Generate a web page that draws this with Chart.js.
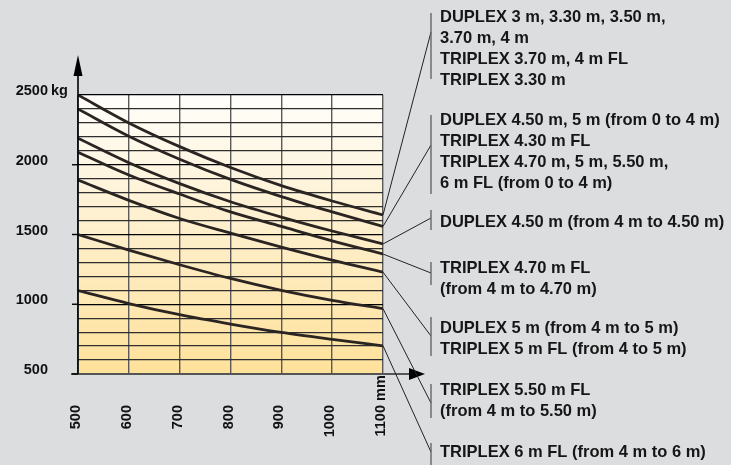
<!DOCTYPE html>
<html>
<head>
<meta charset="utf-8">
<script src="https://cdn.jsdelivr.net/npm/chart.js@4.4.1/dist/chart.umd.min.js"></script>
<style>
  html, body { margin: 0; padding: 0; background: #dcdddf; }
  #wrap { width: 731px; height: 465px; }
</style>
</head>
<body>
<div id="wrap"><canvas id="canvas_load" width="731" height="465"></canvas></div>
<script>
// load centre distance (mm) vs capacity (kg)
var distances = [500, 600, 700, 800, 900, 1000, 1100];
var curve1 = [2500, 2300, 2130, 1980, 1850, 1740, 1640];
var curve2 = [2400, 2205, 2040, 1895, 1772, 1662, 1558];
var curve3 = [2190, 2015, 1865, 1735, 1625, 1525, 1432];
var curve4 = [2090, 1927, 1790, 1662, 1558, 1455, 1360];
var curve5 = [1890, 1745, 1615, 1510, 1410, 1316, 1230];
var curve6 = [1500, 1388, 1283, 1185, 1100, 1028, 968];
var curve7 = [1098, 1005, 925, 858, 798, 748, 702];

var yTickValues = [500, 1000, 1500, 2000, 2500];
var yTickLabels = ['500', '1000', '1500', '2000', '2500'];
var xTickLabels = ['500', '600', '700', '800', '900', '1000', '1100'];

var labelGroups = [
    ['DUPLEX 3 m, 3.30 m, 3.50 m,', '3.70 m, 4 m', 'TRIPLEX 3.70 m, 4 m FL', 'TRIPLEX 3.30 m'],
    ['DUPLEX 4.50 m, 5 m (from 0 to 4 m)', 'TRIPLEX 4.30 m FL', 'TRIPLEX 4.70 m, 5 m, 5.50 m,', '6 m FL (from 0 to 4 m)'],
    ['DUPLEX 4.50 m (from 4 m to 4.50 m)'],
    ['TRIPLEX 4.70 m FL', '(from 4 m to 4.70 m)'],
    ['DUPLEX 5 m (from 4 m to 5 m)', 'TRIPLEX 5 m FL (from 4 to 5 m)'],
    ['TRIPLEX 5.50 m FL', '(from 4 m to 5.50 m)'],
    ['TRIPLEX 6 m FL (from 4 m to 6 m)']
];

var curves = [curve1, curve2, curve3, curve4, curve5, curve6, curve7];

// layout of the callout column (pixels)
var labelX = 440;
var barX = 431;
var groupTop = [17, 120, 222, 268, 328, 390, 452];
var lineGap = 21;
var leaderY = [32, 145, 218, 273, 336, 403, 452];
var barSpan = [[13, 79], [115, 194], [210, 230], [262, 285], [317, 356], [384, 418], [443, 465]];

var bgPlugin = {
    id: 'bg',
    beforeDraw: function(chart) {
        var c = chart.ctx, a = chart.chartArea;
        c.save();
        c.fillStyle = '#dcdddf';
        c.fillRect(0, 0, chart.width, chart.height);
        var g = c.createLinearGradient(0, a.top, 0, a.bottom);
        g.addColorStop(0, '#fffefb');
        g.addColorStop(0.45, '#fef0cf');
        g.addColorStop(1, '#fee19a');
        c.fillStyle = g;
        c.fillRect(a.left, a.top, a.right - a.left, a.bottom - a.top);
        c.restore();
    }
};

var axesPlugin = {
    id: 'axes',
    afterDatasetsDraw: function(chart) {
        var c = chart.ctx;
        var xs = chart.scales.x, ys = chart.scales.y;
        var x0 = xs.getPixelForValue(500), x1 = xs.getPixelForValue(1100);
        var yb = ys.getPixelForValue(500);
        c.save();
        // x axis with arrow
        c.strokeStyle = '#555';
        c.lineWidth = 2;
        c.beginPath();
        c.moveTo(x0 - 7, yb);
        c.lineTo(x1 + 27, yb);
        c.stroke();
        c.fillStyle = '#000';
        c.beginPath();
        c.moveTo(x1 + 42, yb);
        c.lineTo(x1 + 26, yb - 6);
        c.lineTo(x1 + 26, yb + 6);
        c.closePath();
        c.fill();
        // y axis with arrow
        c.strokeStyle = '#000';
        c.lineWidth = 1.6;
        c.beginPath();
        c.moveTo(x0, yb);
        c.lineTo(x0, 74);
        c.stroke();
        c.beginPath();
        c.moveTo(x0, 55);
        c.lineTo(x0 - 4.5, 76);
        c.lineTo(x0 + 4.5, 76);
        c.closePath();
        c.fill();
        // y ticks
        c.lineWidth = 1.4;
        yTickValues.forEach(function(v) {
            if (v === 2500) return;
            var y = ys.getPixelForValue(v);
            c.beginPath();
            c.moveTo(x0 - 6, y);
            c.lineTo(x0, y);
            c.stroke();
        });
        // y tick labels
        c.font = 'bold 14.5px "Liberation Sans", Arial, sans-serif';
        c.fillStyle = '#111';
        c.textBaseline = 'alphabetic';
        yTickValues.forEach(function(v, i) {
            var y = ys.getPixelForValue(v);
            c.textAlign = 'right';
            c.fillText(yTickLabels[i], 48, y);
            if (v === 2500) {
                c.textAlign = 'left';
                c.fillText(' kg', 47, y);
            }
        });
        // x tick labels, rotated
        distances.forEach(function(d, i) {
            var x = xs.getPixelForValue(d) + 2;
            c.save();
            c.translate(x, 405);
            c.rotate(-Math.PI / 2);
            c.textAlign = 'right';
            c.fillText(xTickLabels[i], 0, 0);
            if (i === distances.length - 1) {
                c.textAlign = 'left';
                c.fillText(' mm', 0, 0);
            }
            c.restore();
        });
        // callouts
        c.font = 'bold 16.5px "Liberation Sans", Arial, sans-serif';
        c.textAlign = 'left';
        c.textBaseline = 'middle';
        labelGroups.forEach(function(lines, g) {
            var curve = curves[g];
            var ex = xs.getPixelForValue(distances[distances.length - 1]);
            var ey = ys.getPixelForValue(curve[curve.length - 1]);
            c.strokeStyle = '#222';
            c.lineWidth = 1;
            c.beginPath();
            c.moveTo(ex, ey);
            c.lineTo(barX, leaderY[g]);
            c.stroke();
            c.strokeStyle = '#666';
            c.lineWidth = 1.4;
            c.beginPath();
            c.moveTo(barX, barSpan[g][0]);
            c.lineTo(barX, barSpan[g][1]);
            c.stroke();
            c.fillStyle = '#161616';
            lines.forEach(function(t, k) {
                c.fillText(t, labelX, groupTop[g] + k * lineGap);
            });
        });
        c.restore();
    }
};

var ctx = document.getElementById('canvas_load').getContext('2d');
var chart1 = new Chart(ctx, {
    type: 'line',
    data: {
        labels: distances,
        datasets: curves.map(function(cv) {
            return {
                data: cv,
                borderColor: '#2a2522',
                borderWidth: 2.8,
                pointRadius: 0,
                fill: false,
                cubicInterpolationMode: 'monotone'
            };
        })
    },
    options: {
        responsive: false,
        animation: false,
        layout: { padding: { left: 78, top: 95, right: 348, bottom: 91 } },
        plugins: {
            legend: { display: false },
            tooltip: { enabled: false }
        },
        scales: {
            x: {
                type: 'linear',
                min: 500,
                max: 1100,
                ticks: { display: false, stepSize: 100 },
                border: { display: false },
                grid: { color: '#5a5a5a', lineWidth: 1.4, drawTicks: false }
            },
            y: {
                min: 500,
                max: 2500,
                ticks: { display: false, stepSize: 100 },
                border: { display: false },
                grid: {
                    drawTicks: false,
                    lineWidth: 1.3,
                    color: function(c) {
                        return (c.tick && c.tick.value % 500 === 0) ? '#000' : '#2e2e2e';
                    }
                }
            }
        }
    },
    plugins: [bgPlugin, axesPlugin]
});
</script>
</body>
</html>
